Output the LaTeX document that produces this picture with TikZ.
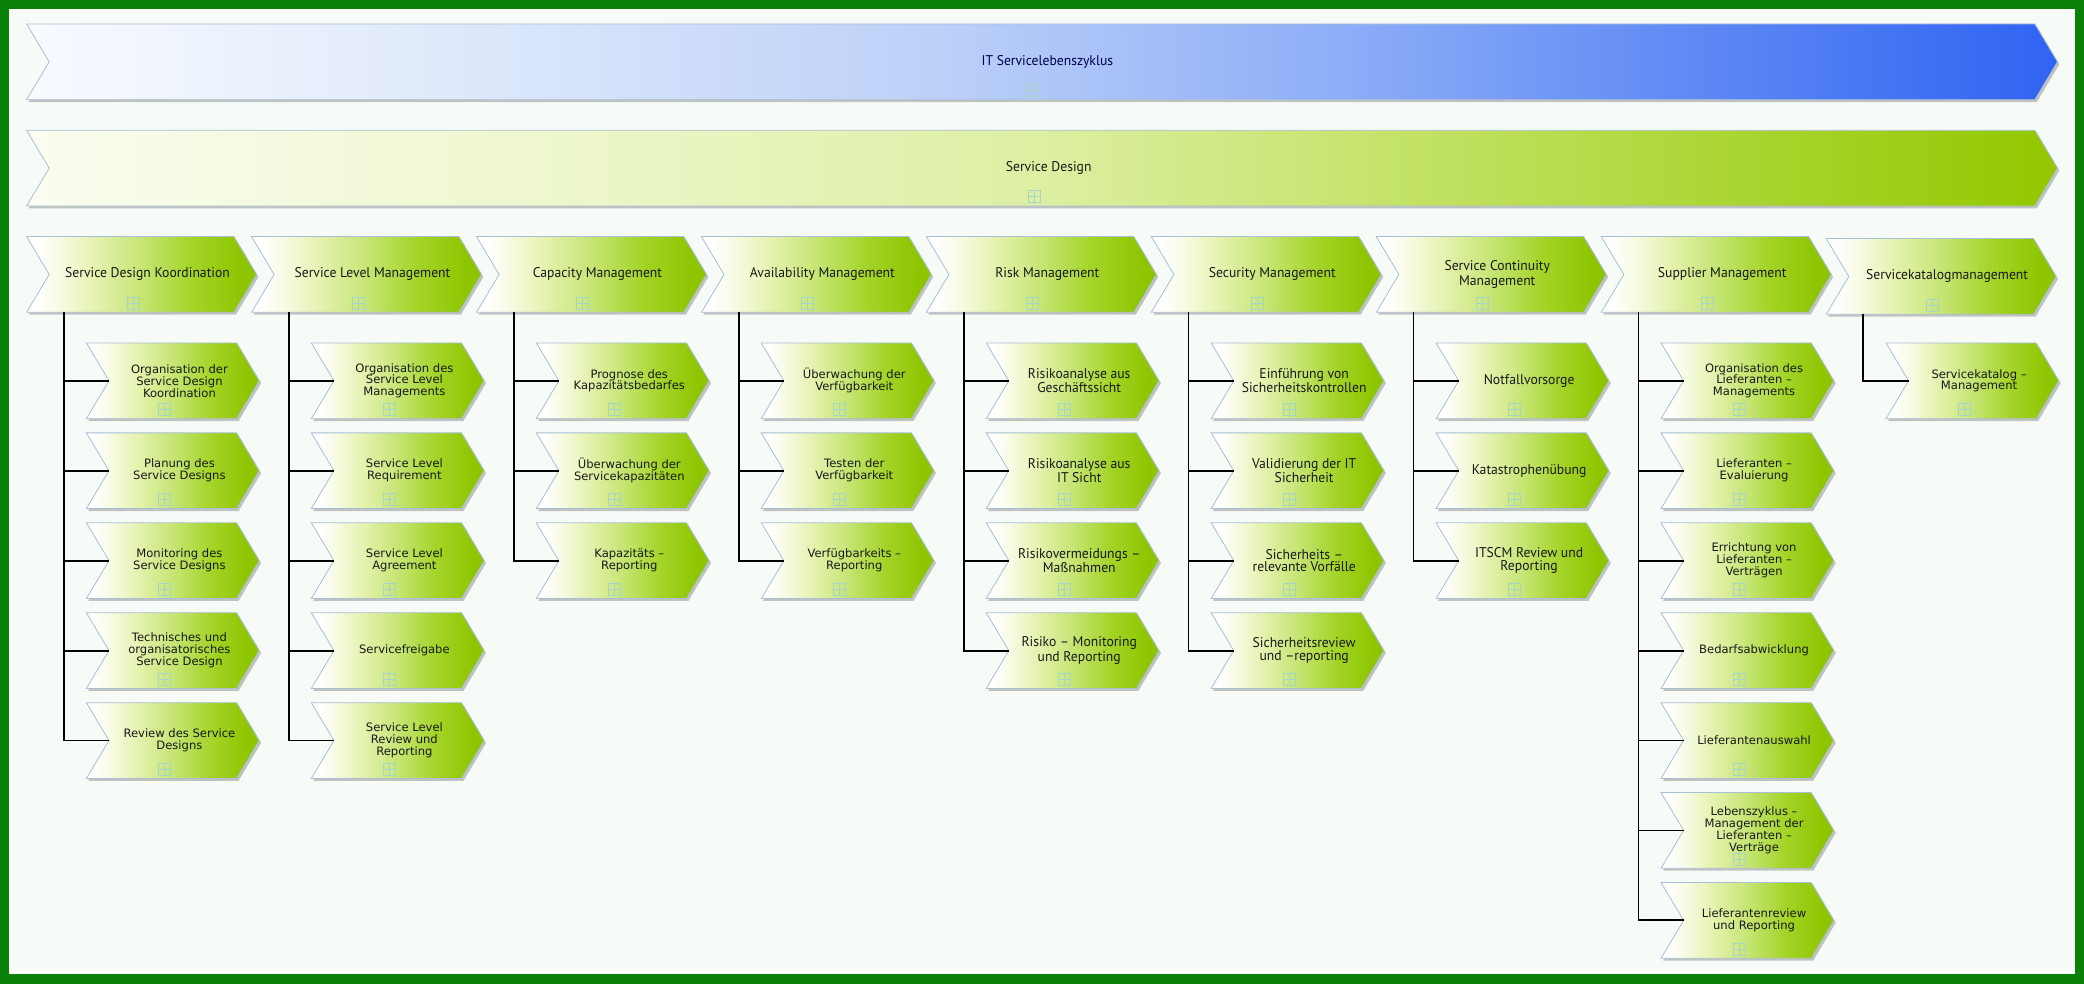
\documentclass[tikz,border=0pt]{standalone}
\usepackage{fontspec}
\setmainfont{DejaVu Sans}
\newfontfamily\narrowf[FakeStretch=0.97]{PT Sans}
\definecolor{frame}{HTML}{0A820A}
\definecolor{paper}{HTML}{F7FBF7}
\definecolor{edge}{HTML}{A9BFD6}
\definecolor{iconc}{HTML}{A6D4C8}
\definecolor{bb0}{HTML}{F8FAFF}
\definecolor{bb1}{HTML}{E0EAFB}
\definecolor{bb2}{HTML}{BCD0F8}
\definecolor{bb3}{HTML}{8CADF7}
\definecolor{bb4}{HTML}{5783F4}
\definecolor{bb5}{HTML}{2F63F2}
\definecolor{gb0}{HTML}{FAFDF0}
\definecolor{gb1}{HTML}{EEF7CE}
\definecolor{gb2}{HTML}{DDEFA2}
\definecolor{gb3}{HTML}{C0E160}
\definecolor{gb4}{HTML}{93C700}
\definecolor{cg0}{HTML}{FFFFFF}
\definecolor{cg1}{HTML}{F7FBE4}
\definecolor{cg2}{HTML}{E4F2AE}
\definecolor{cg3}{HTML}{C6E574}
\definecolor{cg4}{HTML}{A4D428}
\definecolor{cg5}{HTML}{8DC500}
\pgfdeclarehorizontalshading{bluebar}{100bp}{color(0bp)=(bb0); color(25bp)=(bb0); color(35bp)=(bb1); color(47.5bp)=(bb2); color(57.5bp)=(bb3); color(67.5bp)=(bb4); color(75bp)=(bb5); color(100bp)=(bb5)}
\pgfdeclarehorizontalshading{greenbar}{100bp}{color(0bp)=(gb0); color(25bp)=(gb0); color(37.5bp)=(gb1); color(50bp)=(gb2); color(60bp)=(gb3); color(75bp)=(gb4); color(100bp)=(gb4)}
\pgfdeclarehorizontalshading{chevsh}{100bp}{color(0bp)=(cg0); color(27bp)=(cg0); color(32bp)=(cg1); color(40bp)=(cg2); color(50bp)=(cg3); color(61bp)=(cg4); color(72bp)=(cg5); color(100bp)=(cg5)}
\tikzset{
  shadowc/.style={fill=black, opacity=.22},
  conn/.style={draw=black, line width=1.4pt},
  tlabel/.style={font=\narrowf\fontsize{10.6}{9.4}\selectfont, align=center, inner sep=0pt, text=black!90},
  blabel/.style={font=\narrowf\fontsize{10.6}{9.4}\selectfont, align=center, inner sep=0pt, text=blue!30!black},
  slabel/.style={font=\fontsize{8.7}{9}\selectfont, align=center, inner sep=0pt, text=black!90},
}
% #1 name #2 x #3 y #4 w #5 h #6 shading #7 text dx #8 label style #9 text
\newcommand\chev[9]{%
  \fill[shadowc] (#2+1.5,#3+1.8) -- ++(#4-17,0) -- ++(17,#5/2) -- ++(-17,#5/2) -- ++(17-#4,0) -- ++(17,-#5/2) -- cycle;
  \shadedraw[shading=#6, draw=edge, line width=.6pt] (#2,#3) -- ++(#4-17,0) -- ++(17,#5/2) -- ++(-17,#5/2) -- ++(17-#4,0) -- ++(17,-#5/2) -- cycle;
  \coordinate (#1-n) at (#2+17,#3+#5/2);
  \coordinate (#1-b) at (#2+28,#3+#5);
  \node[#8] (#1) at (#2+#7,#3+#5/2) {#9};
  \draw[iconc, line width=.5pt] (#2+#7-15.5,#3+45.5) rectangle ++(9,9) (#2+#7-15.5,#3+50) -- ++(9,0) (#2+#7-11,#3+45.5) -- ++(0,9);
}
\begin{document}
\begin{tikzpicture}[x=1pt,y=-1pt]
\useasboundingbox (0,0) rectangle (1568,740);
\fill[frame] (0,0) rectangle (1568,740);
\fill[paper] (7,7) rectangle (1561,732.5);
\draw[white, line width=1.5pt] (8,8) rectangle (1560,731.5);
% top bars
\chev{life}{20}{18}{1528}{57}{bluebar}{768}{blabel}{IT Servicelebenszyklus}
\chev{sd}{20}{98}{1528}{57}{greenbar}{769}{tlabel}{Service Design}
% tier 3
\chev{t1}{20}{178}{173}{57}{chevsh}{91}{tlabel}{Service Design Koordination}
\chev{t2}{189.25}{178}{173}{57}{chevsh}{91}{tlabel}{Service Level Management}
\chev{t3}{358.5}{178}{173}{57}{chevsh}{91}{tlabel}{Capacity Management}
\chev{t4}{527.75}{178}{173}{57}{chevsh}{91}{tlabel}{Availability Management}
\chev{t5}{697}{178}{173}{57}{chevsh}{91}{tlabel}{Risk Management}
\chev{t6}{866.25}{178}{173}{57}{chevsh}{91}{tlabel}{Security Management}
\chev{t7}{1035.5}{178}{173}{57}{chevsh}{91}{tlabel}{Service Continuity\\Management}
\chev{t8}{1204.75}{178}{173}{57}{chevsh}{91}{tlabel}{Supplier Management}
\chev{t9}{1374}{179.5}{173}{57}{chevsh}{91}{tlabel}{Servicekatalogmanagement}
% column 1
\chev{s1a}{65}{258}{130}{57}{chevsh}{70}{slabel}{Organisation der\\Service Design\\Koordination}
\chev{s1b}{65}{325.67}{130}{57}{chevsh}{70}{slabel}{Planung des\\Service Designs}
\chev{s1c}{65}{393.33}{130}{57}{chevsh}{70}{slabel}{Monitoring des\\Service Designs}
\chev{s1d}{65}{461}{130}{57}{chevsh}{70}{slabel}{Technisches und\\organisatorisches\\Service Design}
\chev{s1e}{65}{528.67}{130}{57}{chevsh}{70}{slabel}{Review des Service\\Designs}
% column 2
\chev{s2a}{234.25}{258}{130}{57}{chevsh}{70}{slabel}{Organisation des\\Service Level\\Managements}
\chev{s2b}{234.25}{325.67}{130}{57}{chevsh}{70}{slabel}{Service Level\\Requirement}
\chev{s2c}{234.25}{393.33}{130}{57}{chevsh}{70}{slabel}{Service Level\\Agreement}
\chev{s2d}{234.25}{461}{130}{57}{chevsh}{70}{slabel}{Servicefreigabe}
\chev{s2e}{234.25}{528.67}{130}{57}{chevsh}{70}{slabel}{Service Level\\Review und\\Reporting}
% column 3
\chev{s3a}{403.5}{258}{130}{57}{chevsh}{70}{slabel}{Prognose des\\Kapazitätsbedarfes}
\chev{s3b}{403.5}{325.67}{130}{57}{chevsh}{70}{slabel}{Überwachung der\\Servicekapazitäten}
\chev{s3c}{403.5}{393.33}{130}{57}{chevsh}{70}{slabel}{Kapazitäts –\\Reporting}
% column 4
\chev{s4a}{572.75}{258}{130}{57}{chevsh}{70}{slabel}{Überwachung der\\Verfügbarkeit}
\chev{s4b}{572.75}{325.67}{130}{57}{chevsh}{70}{slabel}{Testen der\\Verfügbarkeit}
\chev{s4c}{572.75}{393.33}{130}{57}{chevsh}{70}{slabel}{Verfügbarkeits –\\Reporting}
% column 5
\chev{s5a}{742}{258}{130}{57}{chevsh}{70}{tlabel}{Risikoanalyse aus\\Geschäftssicht}
\chev{s5b}{742}{325.67}{130}{57}{chevsh}{70}{tlabel}{Risikoanalyse aus\\IT Sicht}
\chev{s5c}{742}{393.33}{130}{57}{chevsh}{70}{tlabel}{Risikovermeidungs –\\Maßnahmen}
\chev{s5d}{742}{461}{130}{57}{chevsh}{70}{tlabel}{Risiko – Monitoring\\und Reporting}
% column 6
\chev{s6a}{911.25}{258}{130}{57}{chevsh}{70}{tlabel}{Einführung von\\Sicherheitskontrollen}
\chev{s6b}{911.25}{325.67}{130}{57}{chevsh}{70}{tlabel}{Validierung der IT\\Sicherheit}
\chev{s6c}{911.25}{393.33}{130}{57}{chevsh}{70}{tlabel}{Sicherheits –\\relevante Vorfälle}
\chev{s6d}{911.25}{461}{130}{57}{chevsh}{70}{tlabel}{Sicherheitsreview\\und –reporting}
% column 7
\chev{s7a}{1080.5}{258}{130}{57}{chevsh}{70}{tlabel}{Notfallvorsorge}
\chev{s7b}{1080.5}{325.67}{130}{57}{chevsh}{70}{tlabel}{Katastrophenübung}
\chev{s7c}{1080.5}{393.33}{130}{57}{chevsh}{70}{tlabel}{ITSCM Review und\\Reporting}
% column 8
\chev{s8a}{1249.75}{258}{130}{57}{chevsh}{70}{slabel}{Organisation des\\Lieferanten –\\Managements}
\chev{s8b}{1249.75}{325.67}{130}{57}{chevsh}{70}{slabel}{Lieferanten –\\Evaluierung}
\chev{s8c}{1249.75}{393.33}{130}{57}{chevsh}{70}{slabel}{Errichtung von\\Lieferanten –\\Verträgen}
\chev{s8d}{1249.75}{461}{130}{57}{chevsh}{70}{slabel}{Bedarfsabwicklung}
\chev{s8e}{1249.75}{528.67}{130}{57}{chevsh}{70}{slabel}{Lieferantenauswahl}
\chev{s8f}{1249.75}{596.33}{130}{57}{chevsh}{70}{slabel}{Lebenszyklus –\\Management der\\Lieferanten –\\Verträge}
\chev{s8g}{1249.75}{664}{130}{57}{chevsh}{70}{slabel}{Lieferantenreview\\und Reporting}
% column 9
\chev{s9a}{1419}{258}{130}{57}{chevsh}{70}{slabel}{Servicekatalog –\\Management}
% connectors
\foreach \s in {s1a,s1b,s1c,s1d,s1e} \draw[conn] (t1-b) |- (\s-n);
\foreach \s in {s2a,s2b,s2c,s2d,s2e} \draw[conn] (t2-b) |- (\s-n);
\foreach \s in {s3a,s3b,s3c} \draw[conn] (t3-b) |- (\s-n);
\foreach \s in {s4a,s4b,s4c} \draw[conn] (t4-b) |- (\s-n);
\foreach \s in {s5a,s5b,s5c,s5d} \draw[conn] (t5-b) |- (\s-n);
\foreach \s in {s6a,s6b,s6c,s6d} \draw[conn] (t6-b) |- (\s-n);
\foreach \s in {s7a,s7b,s7c} \draw[conn] (t7-b) |- (\s-n);
\foreach \s in {s8a,s8b,s8c,s8d,s8e,s8f,s8g} \draw[conn] (t8-b) |- (\s-n);
\draw[conn] (t9-b) |- (s9a-n);
\end{tikzpicture}
\end{document}
